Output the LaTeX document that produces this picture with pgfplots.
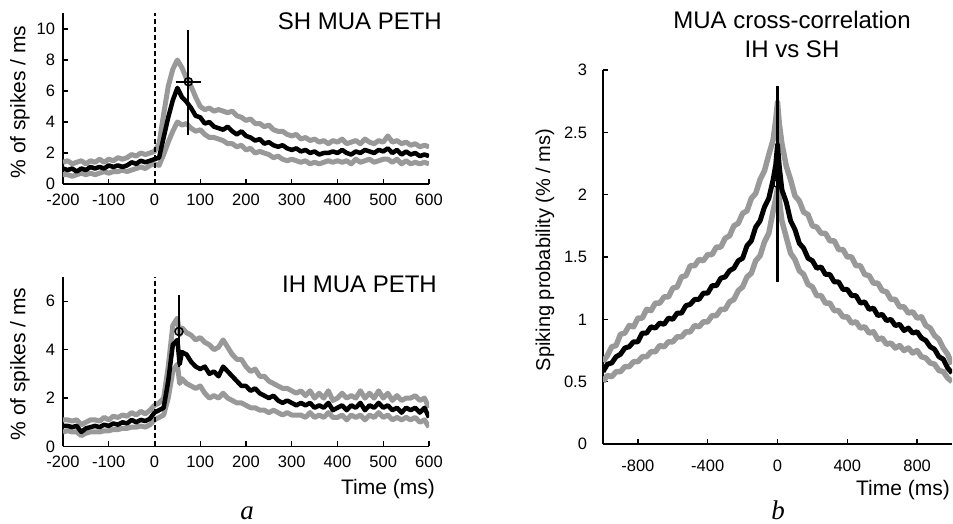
\documentclass[border=0pt]{standalone}
\usepackage{pgfplots}
\usepackage{pgfplotstable}
\pgfplotsset{compat=1.18}
\usepackage{fontspec}
\setmainfont{Liberation Sans}
\newfontfamily\serifit{Liberation Serif}[ItalicFont={Liberation Serif Italic}]
\definecolor{band}{RGB}{153,153,153}

\pgfplotstableread{
t m u l
-200 1.0 1.4 0.6
-190 0.9 1.5 0.6
-180 1.0 1.3 0.5
-170 0.8 1.4 0.6
-160 1.0 1.5 0.7
-150 0.9 1.3 0.6
-140 1.1 1.5 0.7
-130 1.0 1.4 0.6
-120 1.1 1.6 0.7
-110 1.0 1.4 0.8
-100 1.2 1.6 0.7
-90 1.1 1.5 0.8
-80 1.2 1.7 0.8
-70 1.1 1.6 0.9
-60 1.2 1.7 0.8
-50 1.4 1.9 0.9
-40 1.3 1.8 1.0
-30 1.5 2.0 1.1
-20 1.4 1.9 1.0
-10 1.5 2.0 1.2
0 1.6 2.1 1.3
10 1.7 2.6 1.2
20 3.0 4.5 1.9
30 4.3 6.3 2.7
40 5.4 7.4 3.4
50 6.2 8.0 4.0
60 5.6 7.5 3.8
70 5.3 6.8 3.9
80 4.9 6.3 3.6
90 4.4 5.6 3.4
100 4.3 5.0 3.5
110 3.9 4.8 3.2
120 4.0 4.9 3.0
130 3.7 4.7 3.0
140 3.6 4.8 2.9
150 3.5 4.7 2.8
160 3.7 4.6 2.6
170 3.4 4.7 2.6
180 3.2 4.4 2.4
190 3.4 4.3 2.5
200 3.1 4.1 2.2
210 3.0 4.2 2.3
220 2.8 3.9 2.0
230 2.9 3.9 2.1
240 2.6 3.7 2.0
250 2.7 3.8 1.9
260 2.5 3.5 1.7
270 2.4 3.4 1.8
280 2.5 3.4 1.6
290 2.3 3.2 1.5
300 2.2 3.1 1.6
310 2.3 3.2 1.5
320 2.1 2.9 1.4
330 2.2 3.0 1.5
340 2.0 2.8 1.3
350 2.1 2.9 1.4
360 1.9 2.7 1.3
370 2.0 2.8 1.4
380 2.0 2.6 1.5
390 2.1 2.8 1.4
400 2.0 2.7 1.5
410 2.2 2.9 1.4
420 2.0 2.6 1.5
430 1.9 2.7 1.3
440 2.1 2.8 1.6
450 2.0 2.6 1.4
460 2.2 2.9 1.5
470 2.1 2.7 1.6
480 2.0 2.6 1.4
490 2.2 2.8 1.5
500 2.1 2.7 1.6
510 2.3 3.1 1.6
520 2.0 2.7 1.4
530 2.2 2.8 1.6
540 1.9 2.6 1.3
550 2.1 2.7 1.5
560 1.9 2.5 1.3
570 2.0 2.6 1.4
580 1.8 2.4 1.3
590 1.9 2.5 1.4
600 1.8 2.4 1.3
}\shdata

\pgfplotstableread{
t m u l
-200 0.85 1.1 0.6
-190 0.85 1.1 0.65
-180 0.8 1.05 0.6
-170 0.85 1.1 0.6
-160 0.6 0.9 0.45
-150 0.75 1.0 0.55
-140 0.8 1.1 0.6
-130 0.85 1.1 0.6
-120 0.8 1.05 0.6
-110 0.9 1.2 0.65
-100 0.85 1.1 0.65
-90 0.95 1.25 0.7
-80 0.9 1.2 0.7
-70 1.0 1.3 0.75
-60 0.95 1.25 0.75
-50 1.1 1.4 0.8
-40 1.0 1.3 0.8
-30 1.1 1.45 0.85
-20 1.05 1.35 0.8
-10 1.15 1.5 0.9
0 1.4 1.7 1.1
10 1.5 1.8 1.2
20 1.6 2.0 1.3
30 2.7 3.3 2.0
40 4.2 5.0 3.1
50 4.4 5.3 3.4
55 3.4 4.6 2.6
60 3.9 4.9 2.8
70 3.8 4.7 2.6
80 3.5 4.6 2.5
90 3.3 4.4 2.4
100 3.2 4.5 2.5
110 3.3 4.3 2.2
120 3.0 4.2 2.0
130 3.1 4.0 2.1
140 2.9 4.1 2.0
150 3.3 4.4 2.2
160 3.1 4.1 2.0
170 2.9 3.8 1.9
180 2.7 3.6 1.8
190 2.5 3.6 1.8
200 2.5 3.3 1.7
210 2.3 3.1 1.6
220 2.4 3.2 1.6
230 2.2 2.9 1.5
240 2.1 2.9 1.5
250 2.0 2.7 1.4
260 2.1 2.6 1.5
270 1.9 2.5 1.4
280 1.8 2.4 1.3
290 1.9 2.4 1.4
300 1.8 2.3 1.3
310 1.7 2.2 1.3
320 1.8 2.3 1.3
330 1.7 2.1 1.2
340 1.8 2.3 1.4
350 1.6 2.0 1.2
360 1.7 2.2 1.3
370 1.6 2.0 1.2
380 1.8 2.3 1.4
390 1.5 1.9 1.2
400 1.6 2.0 1.2
410 1.7 2.2 1.3
420 1.5 2.0 1.1
430 1.7 2.1 1.3
440 1.6 2.0 1.2
450 1.8 2.3 1.3
460 1.5 2.0 1.1
470 1.7 2.2 1.3
480 1.6 2.0 1.2
490 1.8 2.3 1.4
500 1.6 2.0 1.2
510 1.7 2.2 1.3
520 1.5 1.9 1.1
530 1.6 2.1 1.2
540 1.4 1.9 1.1
550 1.6 2.0 1.2
560 1.5 2.0 1.1
570 1.6 2.1 1.2
580 1.4 1.9 1.0
590 1.6 2.0 1.1
600 1.2 1.6 0.8
}\ihdata

\pgfplotstableread{
t m u l
-1000 0.58 0.66 0.50
-975 0.64 0.71 0.55
-950 0.65 0.78 0.54
-925 0.70 0.79 0.58
-900 0.72 0.88 0.58
-875 0.77 0.89 0.62
-850 0.78 0.95 0.62
-825 0.82 0.94 0.66
-800 0.82 1.01 0.66
-775 0.89 1.01 0.70
-750 0.89 1.08 0.70
-725 0.94 1.07 0.74
-700 0.93 1.13 0.74
-675 0.97 1.13 0.79
-650 0.96 1.18 0.78
-625 1.01 1.18 0.82
-600 1.00 1.25 0.82
-575 1.05 1.26 0.86
-550 1.05 1.34 0.86
-525 1.11 1.35 0.90
-500 1.12 1.43 0.90
-475 1.16 1.43 0.95
-450 1.16 1.48 0.94
-425 1.21 1.47 0.98
-400 1.21 1.52 0.98
-375 1.27 1.52 1.03
-350 1.27 1.58 1.03
-325 1.33 1.58 1.08
-300 1.34 1.65 1.08
-275 1.39 1.67 1.14
-250 1.41 1.75 1.16
-225 1.47 1.77 1.23
-200 1.49 1.85 1.26
-175 1.59 1.87 1.34
-150 1.63 1.97 1.37
-125 1.74 2.01 1.47
-100 1.79 2.12 1.51
-75 1.90 2.19 1.62
-50 1.97 2.32 1.69
-25 2.12 2.44 1.87
-10 2.24 2.60 1.97
0 2.40 2.74 2.05
10 2.23 2.57 1.96
25 2.04 2.41 1.79
50 1.94 2.23 1.66
75 1.79 2.12 1.53
100 1.72 1.99 1.48
125 1.61 1.95 1.39
150 1.57 1.86 1.36
175 1.49 1.84 1.28
200 1.47 1.75 1.26
225 1.41 1.74 1.19
250 1.42 1.69 1.19
275 1.36 1.69 1.13
300 1.36 1.63 1.13
325 1.30 1.63 1.07
350 1.30 1.56 1.07
375 1.24 1.56 1.02
400 1.24 1.50 1.02
425 1.19 1.50 0.97
450 1.19 1.43 0.98
475 1.13 1.43 0.93
500 1.14 1.36 0.94
525 1.08 1.35 0.89
550 1.09 1.29 0.90
575 1.03 1.29 0.84
600 1.04 1.23 0.85
625 0.99 1.22 0.80
650 1.00 1.16 0.81
675 0.95 1.16 0.77
700 0.96 1.10 0.79
725 0.91 1.10 0.75
750 0.93 1.05 0.77
775 0.89 1.06 0.73
800 0.90 1.01 0.75
825 0.85 1.02 0.70
850 0.83 0.95 0.69
875 0.78 0.93 0.65
900 0.76 0.87 0.64
925 0.70 0.84 0.59
950 0.68 0.77 0.58
975 0.61 0.72 0.53
1000 0.57 0.64 0.50
}\ccdata

\pgfplotsset{
  myaxis/.style={
    scale only axis,
    anchor=south west,
    axis lines*=left,
    axis line style={line width=1.4bp, black},
    tick style={line width=1.4bp, black},
    major tick length=5bp,
    tick align=inside,
    tick label style={font=\fontsize{16.5bp}{18bp}\selectfont},
    /pgf/number format/assume math mode=true,
    /pgf/number format/1000 sep={},
    clip=true,
  },
  gray line/.style={band, line width=5bp, line join=round},
  mean line/.style={black, line width=4.5bp, line join=round},
}

\begin{document}
\begin{tikzpicture}
\useasboundingbox (0,0) rectangle (953bp,524bp);

% ---- SH MUA PETH ----
\begin{axis}[myaxis,
  at={(63bp,340bp)}, width=366bp, height=170.5bp,
  xmin=-200, xmax=600, ymin=0, ymax=11,
  xtick={-200,-100,...,600}, ytick={0,2,4,6,8,10},
  xticklabel style={yshift=-6.5bp},
  yticklabel style={xshift=-4.5bp},
]
\addplot[gray line] table[x=t,y=u] {\shdata};
\addplot[gray line] table[x=t,y=l] {\shdata};
\addplot[mean line] table[x=t,y=m] {\shdata};
\addplot[black, line width=2bp, dash pattern=on 5bp off 3bp] coordinates {(0,0) (0,11)};
\addplot[black, line width=2.2bp] coordinates {(74,3.16) (74,9.94)};
\addplot[black, line width=2.2bp] coordinates {(46,6.6) (102,6.6)};
\addplot[only marks, mark=o, mark size=4bp, mark options={black, line width=1.5bp}] coordinates {(74,6.6)};
\end{axis}

% ---- IH MUA PETH ----
\begin{axis}[myaxis,
  at={(63bp,77.5bp)}, width=366bp, height=169.5bp,
  xmin=-200, xmax=600, ymin=0, ymax=7,
  xtick={-200,-100,...,600}, ytick={0,2,4,6},
  xticklabel style={yshift=-5.5bp},
  yticklabel style={xshift=-4.5bp},
]
\addplot[gray line] table[x=t,y=u] {\ihdata};
\addplot[gray line] table[x=t,y=l] {\ihdata};
\addplot[mean line] table[x=t,y=m] {\ihdata};
\addplot[black, line width=2bp, dash pattern=on 5bp off 3bp] coordinates {(0,0) (0,7)};
\addplot[black, line width=2.2bp] coordinates {(53.5,3.3) (53.5,6.24)};
\addplot[only marks, mark=o, mark size=4bp, mark options={black, line width=1.5bp}] coordinates {(53.5,4.75)};
\end{axis}

% ---- cross-correlation ----
\begin{axis}[myaxis,
  at={(603bp,80bp)}, width=349bp, height=374bp,
  xmin=-1000, xmax=1000, ymin=0, ymax=3,
  xtick={-800,-400,0,400,800}, ytick={0,0.5,1,1.5,2,2.5,3},
  xticklabel style={yshift=-12.5bp},
  yticklabel style={xshift=-12.5bp},
  gray line/.append style={line width=5.5bp},
  mean line/.append style={line width=5bp},
]
\addplot[gray line] table[x=t,y=u] {\ccdata};
\addplot[gray line] table[x=t,y=l] {\ccdata};
\addplot[mean line] table[x=t,y=m] {\ccdata};
\addplot[black, line width=3bp] coordinates {(0,1.30) (0,2.87)};
\addplot[only marks, mark=o, mark size=4bp, mark options={black, line width=1.3bp}] coordinates {(0,2.09)};
\end{axis}

% ---- texts ----
\node[anchor=base east, font=\fontsize{24bp}{28bp}\selectfont, inner sep=0] at (442bp,494bp) {SH MUA PETH};
\node[anchor=base east, font=\fontsize{24bp}{28bp}\selectfont, inner sep=0] at (437bp,231bp) {IH MUA PETH};
\node[anchor=base, font=\fontsize{24bp}{28bp}\selectfont, inner sep=0] at (792bp,495bp) {MUA cross-correlation};
\node[anchor=base, font=\fontsize{24bp}{28bp}\selectfont, inner sep=0] at (792bp,466bp) {IH vs SH};

\node[rotate=90, font=\fontsize{21bp}{24bp}\selectfont, inner sep=0] at (20bp,422bp) {\% of spikes / ms};
\node[rotate=90, font=\fontsize{21bp}{24bp}\selectfont, inner sep=0] at (20bp,160bp) {\% of spikes / ms};
\node[rotate=90, font=\fontsize{20bp}{24bp}\selectfont, inner sep=0] at (545bp,274bp) {Spiking probability (\% / ms)};

\node[anchor=base east, font=\fontsize{21bp}{24bp}\selectfont, inner sep=0] at (435bp,30bp) {Time (ms)};
\node[anchor=base east, font=\fontsize{21bp}{24bp}\selectfont, inner sep=0] at (950bp,29bp) {Time (ms)};

\node[anchor=base, font=\fontsize{27bp}{30bp}\selectfont\serifit\itshape, inner sep=0] at (247bp,5bp) {a};
\node[anchor=base, font=\fontsize{27bp}{30bp}\selectfont\serifit\itshape, inner sep=0] at (778bp,5bp) {b};
\end{tikzpicture}
\end{document}
